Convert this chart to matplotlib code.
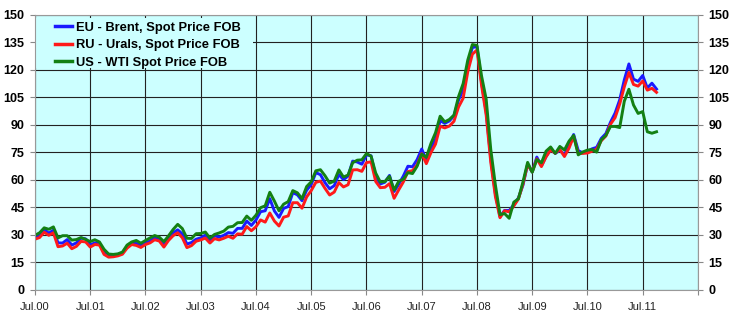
import matplotlib
matplotlib.use("Agg")
import matplotlib.pyplot as plt
from matplotlib.patches import Rectangle
import numpy as np

# monthly averages, Jul 2000 .. Oct 2011 (USD per barrel)
brent = [28.7, 29.9, 33.0, 31.0, 32.6, 25.7,
         25.6, 27.5, 24.5, 25.7, 28.3, 27.9, 24.6, 25.7, 25.6, 20.5, 18.8, 18.7,
         19.4, 20.3, 23.7, 25.7, 25.4, 24.1, 25.7, 26.7, 28.4, 27.5, 24.3, 28.3,
         31.2, 32.8, 30.6, 25.0, 25.9, 27.7, 28.4, 29.9, 27.1, 29.6, 28.8, 29.8,
         31.3, 30.9, 33.6, 33.6, 37.6, 35.2, 38.2, 42.7, 43.2, 49.8, 43.1, 39.6,
         44.5, 45.5, 53.1, 51.9, 48.7, 54.4, 57.5, 64.0, 62.9, 58.5, 55.2, 56.9,
         63.0, 60.2, 62.1, 70.3, 69.8, 68.6, 73.7, 73.2, 62.0, 57.8, 58.8, 62.5,
         53.7, 57.6, 62.1, 67.5, 67.2, 71.1, 76.9, 70.8, 77.2, 82.3, 92.4, 90.9,
         92.2, 95.0, 103.6, 109.1, 122.8, 132.3, 132.7, 113.2, 97.2, 71.6, 52.5, 40.0,
         43.4, 43.3, 46.5, 50.2, 57.3, 68.6, 64.4, 72.5, 67.7, 72.8, 76.7, 74.5,
         76.2, 73.8, 78.8, 84.8, 76.0, 74.8, 75.6, 77.0, 77.8, 82.7, 85.3, 91.5,
         96.5, 103.7, 114.6, 123.3, 115.0, 113.8, 117.0, 110.2, 112.8, 109.6]

urals = [27.7, 28.6, 31.5, 29.8, 31.2, 23.6,
         24.0, 25.5, 22.5, 23.8, 26.5, 26.2, 23.4, 24.8, 24.5, 19.4, 17.9, 18.1,
         18.6, 19.5, 22.8, 24.8, 24.3, 23.2, 24.8, 25.7, 27.4, 26.7, 23.4, 27.0,
         29.6, 31.2, 28.5, 23.1, 24.2, 26.6, 27.3, 28.3, 25.6, 28.0, 27.3, 28.2,
         29.3, 28.2, 30.6, 30.4, 34.6, 32.3, 34.5, 38.2, 37.0, 42.0, 37.6, 34.9,
         39.7, 40.4, 47.6, 47.6, 44.6, 50.7, 54.2, 58.7, 59.4, 55.4, 51.8, 53.4,
         58.6, 56.2, 57.4, 65.5, 65.6, 64.7, 69.5, 69.9, 59.2, 55.8, 56.0, 58.0,
         50.0, 54.6, 58.9, 64.6, 65.1, 68.2, 74.4, 68.9, 74.9, 79.6, 89.3, 88.4,
         89.4, 92.0, 99.8, 104.6, 119.0, 128.6, 130.9, 111.6, 95.4, 69.6, 51.0, 39.4,
         43.2, 42.6, 45.8, 49.6, 57.8, 68.5, 64.4, 71.5, 67.3, 72.6, 76.4, 74.6,
         76.6, 72.8, 77.4, 83.7, 74.4, 74.5, 74.7, 75.7, 76.8, 81.4, 84.0, 90.4,
         94.0, 101.4, 110.8, 118.6, 112.1, 111.2, 114.0, 109.0, 110.0, 107.8]

wti = [29.8, 31.2, 33.9, 33.1, 34.4, 28.4,
       29.6, 29.6, 27.2, 27.5, 28.6, 27.6, 26.4, 27.4, 26.2, 22.2, 19.6, 19.4,
       19.7, 20.7, 24.5, 26.2, 27.0, 25.5, 27.0, 28.4, 29.7, 28.8, 26.4, 29.5,
       33.0, 35.8, 33.5, 28.2, 28.1, 30.7, 30.8, 31.6, 28.3, 30.3, 31.1, 32.1,
       34.3, 34.7, 36.7, 36.8, 40.3, 38.0, 40.8, 44.9, 45.9, 53.3, 48.5, 43.2,
       46.8, 48.2, 54.2, 53.0, 49.8, 56.4, 59.0, 65.0, 65.6, 62.3, 58.3, 59.4,
       65.5, 61.6, 62.7, 69.4, 70.8, 71.0, 74.4, 73.0, 63.8, 58.9, 59.1, 62.0,
       54.5, 59.3, 60.4, 64.0, 63.5, 67.5, 74.1, 72.4, 79.9, 85.8, 94.8, 91.7,
       93.0, 95.4, 105.5, 112.6, 125.4, 133.9, 133.4, 116.7, 104.1, 76.6, 57.3, 41.1,
       41.7, 39.1, 47.9, 49.7, 59.0, 69.6, 64.2, 71.1, 69.4, 75.7, 78.0, 74.5,
       78.3, 76.4, 81.2, 84.3, 73.7, 75.3, 76.3, 76.6, 75.2, 81.9, 84.3, 89.2,
       89.2, 88.6, 102.9, 109.5, 100.9, 96.3, 97.3, 86.3, 85.5, 86.3]

year_labels = ["Jul.00", "Jul.01", "Jul.02", "Jul.03", "Jul.04", "Jul.05",
               "Jul.06", "Jul.07", "Jul.08", "Jul.09", "Jul.10", "Jul.11", ""]

months = np.arange(len(brent))
bg = "#ccffff"

fig = plt.figure(figsize=(7.35, 3.19), dpi=100)
ax = fig.add_axes([0.0476, 0.091, 0.902, 0.862])
ax.set_facecolor(bg)

ax.plot(months, brent, color="#1a1aff", lw=2.1, label="EU - Brent, Spot Price FOB")
ax.plot(months, urals, color="#ff1a1a", lw=2.1, label="RU - Urals, Spot Price FOB")
ax.plot(months, wti, color="#138013", lw=2.1, label="US - WTI Spot Price FOB")

ax.set_xlim(0, 144)
ax.set_ylim(0, 150)
ax.set_xticks(np.arange(0, 145, 12))
ax.set_xticklabels(year_labels, fontsize=8, family="Liberation Sans", color="#222222")
ax.set_yticks(np.arange(0, 151, 15))
ax.tick_params(axis="y", labelsize=9, right=True, labelright=True,
               length=3.5, color="#888888", pad=4)
ax.tick_params(axis="x", length=3.5, color="#888888", pad=5)
for lab in ax.get_yticklabels():
    lab.set_fontweight("bold")
    lab.set_family("Liberation Sans")
ax.grid(True, color="#222222", lw=0.8)
ax.set_axisbelow(True)
for s in ax.spines.values():
    s.set_color("#999999")

# legend backdrop hides the grid behind the legend
ax.add_patch(Rectangle((0.0, 0.807), 0.329, 0.182, transform=ax.transAxes,
                       facecolor=bg, edgecolor="none", zorder=1))

leg = ax.legend(loc="upper left", bbox_to_anchor=(0.030, 0.975), frameon=False,
                handlelength=1.3, handletextpad=0.3, labelspacing=0.41,
                borderpad=0, borderaxespad=0,
                prop={"family": "Liberation Sans", "weight": "bold", "size": 9.3})
for line in leg.get_lines():
    line.set_linewidth(2.5)

fig.savefig("out.png", dpi=100)
